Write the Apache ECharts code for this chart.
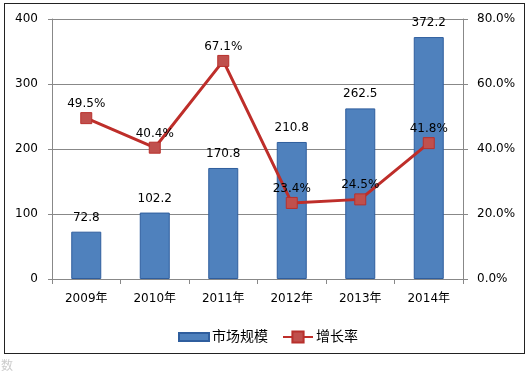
<!DOCTYPE html>
<html><head><meta charset="utf-8">
<script src="https://cdn.jsdelivr.net/npm/echarts@6/dist/echarts.min.js"></script>
<style>
html,body{margin:0;padding:0;background:#fff;}
#frame{position:absolute;left:4px;top:3px;width:521px;height:351px;border:1px solid #222;box-sizing:border-box;}
#c{position:absolute;left:0;top:0;width:529px;height:374px;}
#wm{position:absolute;left:1px;top:356px;font:12px "Noto Sans CJK SC";color:#ccc;}
</style></head>
<body>
<div id="frame"></div>
<div id="c"></div>
<div id="wm">数</div>
<script>
var categories = ['2009年','2010年','2011年','2012年','2013年','2014年'];
var marketSize = [72.8, 102.2, 170.8, 210.8, 262.5, 372.2];
var growthRate = [49.5, 40.4, 67.1, 23.4, 24.5, 41.8];
var leftTicks = [0, 100, 200, 300, 400];
var rightTicks = [0, 20, 40, 60, 80];

var font = 'DejaVu Sans, "Noto Sans CJK SC"';
var chart = echarts.init(document.getElementById('c'));
chart.setOption({
  animation: false,
  grid: {left: 52, right: 66, top: 19, bottom: 95},
  legend: {
    top: 325, left: 173, itemGap: 14, itemWidth: 30, itemHeight: 14,
    textStyle: {fontFamily: font, fontSize: 14, color: '#000', padding: [0, 0, 0, -2]},
    data: [{name: '市场规模', icon: 'path://M0,3L30,3L30,11L0,11Z'}, {name: '增长率'}]
  },
  xAxis: {
    type: 'category', data: categories,
    axisLine: {lineStyle: {color: '#888', width: 1}},
    axisTick: {show: true, lineStyle: {color: '#888'}, length: 5},
    axisLabel: {fontFamily: font, fontSize: 12, color: '#000', margin: 14}
  },
  yAxis: [{
    type: 'value', min: 0, max: 400, interval: 100,
    axisLine: {show: true, lineStyle: {color: '#888'}},
    axisTick: {show: true, inside: false, length: 4, lineStyle: {color: '#888'}},
    splitLine: {lineStyle: {color: '#888', width: 1}},
    axisLabel: {fontFamily: font, fontSize: 12, color: '#000', margin: 14}
  }, {
    type: 'value', min: 0, max: 80, interval: 20, position: 'right',
    axisLine: {show: true, lineStyle: {color: '#888'}},
    axisTick: {show: true, inside: false, length: 5, lineStyle: {color: '#888'}},
    splitLine: {show: false},
    axisLabel: {fontFamily: font, fontSize: 12, color: '#000', margin: 14,
      formatter: function(v){return v.toFixed(1) + '%';}}
  }],
  series: [{
    name: '市场规模', type: 'bar', data: marketSize, barWidth: 30,
    itemStyle: {color: '#4F81BD', borderColor: '#2F5E9E', borderWidth: 1},
    label: {show: true, position: 'top', distance: 8, fontFamily: font, fontSize: 12, color: '#000'}
  }, {
    name: '增长率', type: 'line', yAxisIndex: 1, data: growthRate,
    lineStyle: {color: '#BE2E2A', width: 3},
    symbol: 'rect', symbolSize: 11,
    itemStyle: {color: '#C0504D', borderColor: '#B8302C', borderWidth: 1},
    label: {show: true, position: 'top', distance: 2, fontFamily: font, fontSize: 12, color: '#000',
      formatter: function(p){return p.value.toFixed(1) + '%';}}
  }]
});
</script>
</body></html>
